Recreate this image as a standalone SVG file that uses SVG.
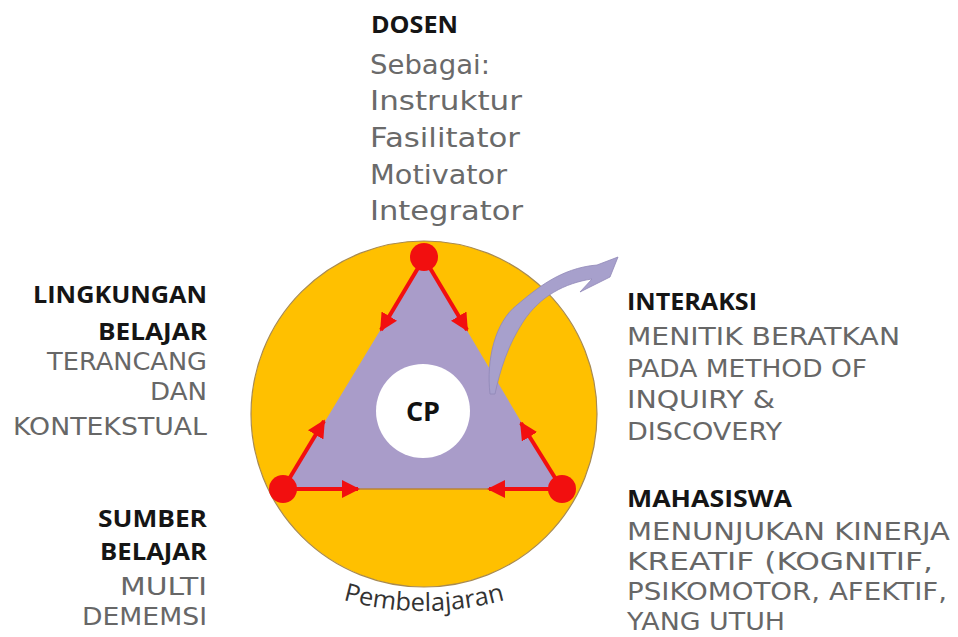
<svg xmlns="http://www.w3.org/2000/svg" width="958" height="637" viewBox="0 0 958 637">
<defs>
<style>
.t{font-family:"Open Sans","Liberation Sans",sans-serif;font-weight:bold;font-size:24px;fill:#151515}
.g{font-family:"DejaVu Sans","Liberation Sans",sans-serif;font-size:24px;fill:#676767}
.g2{font-family:"DejaVu Sans","Liberation Sans",sans-serif;font-size:26px;fill:#6a6a6a}
.r{text-anchor:end}
.red{stroke:#F20F0F;stroke-width:4;fill:none;marker-end:url(#ah)}
.dot{fill:#F20F0F}
</style>
<marker id="ah" viewBox="0 0 10 10" refX="9" refY="5" markerWidth="4.5" markerHeight="4.5" orient="auto" markerUnits="strokeWidth">
<path d="M0,0 L10,5 L0,10 Z" fill="#F20F0F"/>
</marker>
<path id="arc" d="M304,586 A300,300 0 0,0 544,586"/>
</defs>
<rect width="958" height="637" fill="#ffffff"/>

<g id="pembelajaran">
<circle cx="424" cy="414" r="173" fill="#FFC000" stroke="#A88A50" stroke-width="1.2"/>
<text font-family="'Open Sans','Liberation Sans',sans-serif" font-size="25" fill="#333"><textPath href="#arc" startOffset="50%" text-anchor="middle" textLength="164" lengthAdjust="spacingAndGlyphs">Pembelajaran</textPath></text>
</g>

<g id="triangle">
<polygon points="424,258 284,489 561,489" fill="#A99CC9"/>
<line x1="290" y1="489" x2="556" y2="489" stroke="#B8823A" stroke-width="1.5"/>
</g>

<g id="cp">
<circle cx="423" cy="411" r="47" fill="#ffffff"/>
<text x="423" y="421" text-anchor="middle" font-family="'Open Sans','Liberation Sans',sans-serif" font-weight="bold" font-size="27" fill="#111">CP</text>
</g>

<g id="connectors">
<line class="red" x1="424" y1="258" x2="381" y2="330"/>
<line class="red" x1="424" y1="258" x2="467" y2="330"/>
<line class="red" x1="283" y1="489" x2="324" y2="421"/>
<line class="red" x1="283" y1="489" x2="358" y2="489"/>
<line class="red" x1="562" y1="489" x2="521" y2="423"/>
<line class="red" x1="562" y1="489" x2="489" y2="489"/>
<path d="M490,394 C486,360 495,322 517,305 C535,290 560,268 597,265 L618,257 L610,277 L580,292 L592,279 C565,283 540,296 523,322 C508,345 500,370 495,394 Z" fill="#A7A0CC" stroke="#9088B8" stroke-width="0.8"/>
</g>

<g id="dots">
<circle class="dot" cx="424" cy="257" r="14"/>
<circle class="dot" cx="283" cy="489" r="14"/>
<circle class="dot" cx="562" cy="489" r="14"/>
</g>

<g id="dosen">
<text class="t" x="371" y="33" textLength="87" lengthAdjust="spacingAndGlyphs">DOSEN</text>
<text class="g2" x="370" y="74" textLength="120" lengthAdjust="spacingAndGlyphs">Sebagai:</text>
<text class="g2" x="370" y="110" textLength="152" lengthAdjust="spacingAndGlyphs">Instruktur</text>
<text class="g2" x="370" y="147" textLength="150" lengthAdjust="spacingAndGlyphs">Fasilitator</text>
<text class="g2" x="370" y="184" textLength="137" lengthAdjust="spacingAndGlyphs">Motivator</text>
<text class="g2" x="370" y="220" textLength="153" lengthAdjust="spacingAndGlyphs">Integrator</text>
</g>

<g id="interaksi">
<text class="t" x="627" y="310" textLength="130" lengthAdjust="spacingAndGlyphs">INTERAKSI</text>
<text class="g" x="627" y="345" textLength="273" lengthAdjust="spacingAndGlyphs">MENITIK BERATKAN</text>
<text class="g" x="627" y="377" textLength="240" lengthAdjust="spacingAndGlyphs">PADA METHOD OF</text>
<text class="g" x="627" y="408" textLength="148" lengthAdjust="spacingAndGlyphs">INQUIRY &amp;</text>
<text class="g" x="627" y="440" textLength="155" lengthAdjust="spacingAndGlyphs">DISCOVERY</text>
</g>

<g id="mahasiswa">
<text class="t" x="627" y="507" textLength="165" lengthAdjust="spacingAndGlyphs">MAHASISWA</text>
<text class="g" x="627" y="540" textLength="323" lengthAdjust="spacingAndGlyphs">MENUNJUKAN KINERJA</text>
<text class="g" x="627" y="570" textLength="306" lengthAdjust="spacingAndGlyphs">KREATIF (KOGNITIF,</text>
<text class="g" x="627" y="600" textLength="320" lengthAdjust="spacingAndGlyphs">PSIKOMOTOR, AFEKTIF,</text>
<text class="g" x="627" y="630" textLength="158" lengthAdjust="spacingAndGlyphs">YANG UTUH</text>
</g>

<g id="lingkungan">
<text class="t r" x="207" y="303" textLength="174" lengthAdjust="spacingAndGlyphs">LINGKUNGAN</text>
<text class="t r" x="207" y="340" textLength="109" lengthAdjust="spacingAndGlyphs">BELAJAR</text>
<text class="g r" x="207" y="370" textLength="160" lengthAdjust="spacingAndGlyphs">TERANCANG</text>
<text class="g r" x="207" y="400" textLength="57" lengthAdjust="spacingAndGlyphs">DAN</text>
<text class="g r" x="207" y="435" textLength="194" lengthAdjust="spacingAndGlyphs">KONTEKSTUAL</text>
</g>

<g id="sumber">
<text class="t r" x="207" y="527" textLength="109" lengthAdjust="spacingAndGlyphs">SUMBER</text>
<text class="t r" x="207" y="560" textLength="107" lengthAdjust="spacingAndGlyphs">BELAJAR</text>
<text class="g r" x="207" y="595" textLength="87" lengthAdjust="spacingAndGlyphs">MULTI</text>
<text class="g r" x="207" y="625" textLength="125" lengthAdjust="spacingAndGlyphs">DEMEMSI</text>
</g>
</svg>
